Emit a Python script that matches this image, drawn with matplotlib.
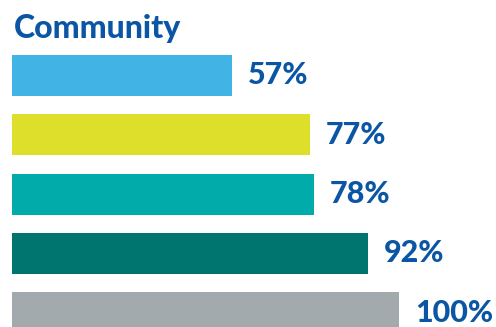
import matplotlib
matplotlib.use('Agg')
import matplotlib.pyplot as plt

# data
title = 'Community'
values = [57, 77, 78, 92, 100]
labels = ['57%', '77%', '78%', '92%', '100%']
colors = ['#41B4E5', '#DEDF2B', '#00ABAA', '#007570', '#A2AAAD']
text_color = '#0B56A4'

W, H = 496, 327
fig = plt.figure(figsize=(W / 100, H / 100), dpi=100)
ax = fig.add_axes([0, 0, 1, 1])

px_per_unit = 3.875
x0 = 11.5
pitch = 59.25
y_first = 75.5

pos = list(range(len(values)))
ax.barh(pos, values, height=41 / pitch, color=colors, left=0)

for i in pos:
    ax.text(values[i] + 16 / px_per_unit, i, labels[i], color=text_color,
            fontsize=22, fontweight='black', family='Lato',
            va='center', ha='left')

ax.set_xlim(-x0 / px_per_unit, (W - x0) / px_per_unit)
ax.set_ylim((H - y_first) / pitch, -y_first / pitch)
ax.axis('off')

fig.text(14 / W, 1 - 38 / H, title, color=text_color, fontsize=23,
         fontweight='black', family='Lato', va='baseline', ha='left')

fig.savefig('out.png', dpi=100)
